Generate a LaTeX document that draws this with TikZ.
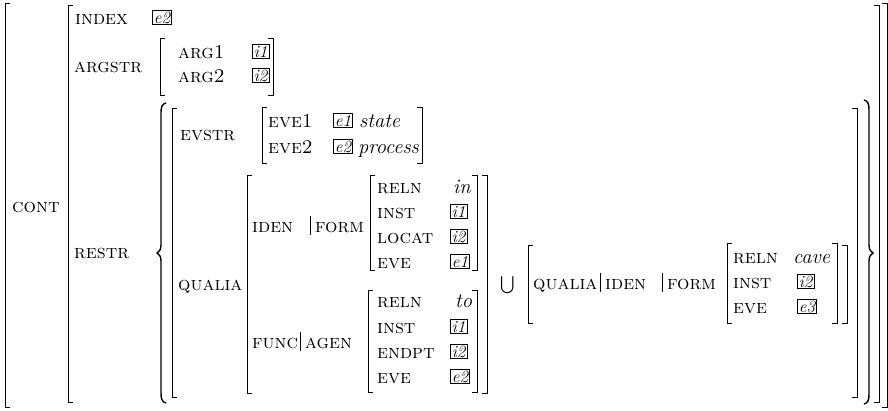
\documentclass[tikz,border=0pt]{standalone}
\usepackage{fontspec}
\usepackage{exscale}
\usetikzlibrary{positioning}

\newcommand{\openbr}[3]{\draw[brk] (#1+5,#2) -- (#1,#2) -- (#1,#3) -- (#1+5,#3);}
\newcommand{\closebr}[3]{\draw[brk] (#1-5,#2) -- (#1,#2) -- (#1,#3) -- (#1-5,#3);}
\newcommand{\openbrace}[4]{\draw[brc] (#1+9,#2) .. controls (#1+5,#2+1) and (#1+4,#2+4) .. (#1+4,#2+10)
  -- (#1+4,#3-8) .. controls (#1+4,#3-3) and (#1+2,#3-1) .. (#1,#3)
  .. controls (#1+2,#3+1) and (#1+4,#3+3) .. (#1+4,#3+8)
  -- (#1+4,#4-10) .. controls (#1+4,#4-4) and (#1+5,#4-1) .. (#1+9,#4);}
\newcommand{\closebrace}[4]{\draw[brc] (#1-9,#2) .. controls (#1-5,#2+1) and (#1-4,#2+4) .. (#1-4,#2+10)
  -- (#1-4,#3-8) .. controls (#1-4,#3-3) and (#1-2,#3-1) .. (#1,#3)
  .. controls (#1-2,#3+1) and (#1-4,#3+3) .. (#1-4,#3+8)
  -- (#1-4,#4-10) .. controls (#1-4,#4-4) and (#1-5,#4-1) .. (#1-9,#4);}

\begin{document}
\begin{tikzpicture}[
    x=1pt, y=-1pt,
    lbl/.style={anchor=base west, inner sep=0pt, font=\fontsize{19.5}{22}\selectfont\scshape},
    val/.style={anchor=base west, inner sep=0pt, font=\fontsize{20.5}{24}\selectfont\itshape},
    tagbox/.style={draw, anchor=base west, line width=0.7pt, inner xsep=1.5pt, inner ysep=1pt, font=\fontsize{17}{19}\selectfont\itshape},
    brk/.style={line width=0.7pt},
    brc/.style={line width=1.4pt}
]
\useasboundingbox (0,0) rectangle (888,410);

\node[lbl] (cont) at (12,212) {cont};
\openbr{5}{3}{407} \closebr{887}{3}{407}
\openbr{68}{5}{402} \closebr{879}{5}{402}

\node[lbl] (index) at (75,24) {index};
\node[tagbox] (indexv) at (152,23) {e2};

\node[lbl] (argstr) at (74,72) {argstr};
\openbr{160}{38}{95} \closebr{273}{38}{95}
\node[lbl] (argI) at (178,58) {arg1};
\node[tagbox] (argIv) at (252,57) {i1};
\node[lbl] (argII) at (178,82) {arg2};
\node[tagbox] (argIIv) at (252,81) {i2};

\node[lbl] (restr) at (74,258) {restr};
\openbrace{157}{103}{253}{403}
\openbr{172}{108}{397} \closebr{857}{108}{397}

\node[lbl] (evstr) at (180,140) {evstr};
\openbr{262}{107}{163} \closebr{422}{107}{163}
\node[lbl] (eveI) at (268,127) {eve1};
\node[tagbox] (eveIv) at (333,126) {e1};
\node[val] (state) at (359,127) {state};
\node[lbl] (eveII) at (268,153) {eve2};
\node[tagbox] (eveIIv) at (333,152) {e2};
\node[val] (process) at (358,153) {process};

\node[lbl] (qualia) at (178,290) {qualia};
\openbr{247}{175}{393} \closebr{487}{175}{393}

\node[lbl] (iden) at (252,232) {iden};
\draw[brk] (310,216) -- (310,235);
\node[lbl] (form) at (315,232) {form};
\openbr{370}{175}{270} \closebr{477}{175}{270}
\node[lbl] (frel) at (377,193) {reln};
\node[val] (frelv) at (453,193) {in};
\node[lbl] (finst) at (377,218) {inst};
\node[tagbox] (finstv) at (450,217) {i1};
\node[lbl] (floc) at (377,243) {locat};
\node[tagbox] (flocv) at (450,242) {i2};
\node[lbl] (feve) at (377,268) {eve};
\node[tagbox] (fevev) at (450,267) {e1};

\node[lbl] (func) at (252,348) {func};
\draw[brk] (300,332) -- (300,351);
\node[lbl] (agen) at (305,348) {agen};
\openbr{368}{290}{392} \closebr{477}{290}{392}
\node[lbl] (arel) at (377,307) {reln};
\node[val] (arelv) at (455,307) {to};
\node[lbl] (ainst) at (377,333) {inst};
\node[tagbox] (ainstv) at (450,332) {i1};
\node[lbl] (aend) at (377,358) {endpt};
\node[tagbox] (aendv) at (450,357) {i2};
\node[lbl] (aeve) at (377,383) {eve};
\node[tagbox] (aevev) at (450,382) {e2};

\node[inner sep=0pt, font=\fontsize{16}{20}\selectfont] (union) at (508,285) {$\bigcup$};

\openbr{528}{245}{323} \closebr{847}{245}{323}
\node[lbl] (cqualia) at (533,289) {qualia};
\draw[brk] (600,273) -- (600,292);
\node[lbl] (ciden) at (605,289) {iden};
\draw[brk] (662,273) -- (662,292);
\node[lbl] (cform) at (667,289) {form};
\openbr{727}{243}{323} \closebr{837}{243}{323}
\node[lbl] (crel) at (733,263) {reln};
\node[val] (crelv) at (793,263) {cave};
\node[lbl] (cinst) at (733,288) {inst};
\node[tagbox] (cinstv) at (797,287) {i2};
\node[lbl] (ceve) at (733,313) {eve};
\node[tagbox] (cevev) at (797,312) {e3};

\closebrace{873}{100}{253}{404}
\end{tikzpicture}
\end{document}
